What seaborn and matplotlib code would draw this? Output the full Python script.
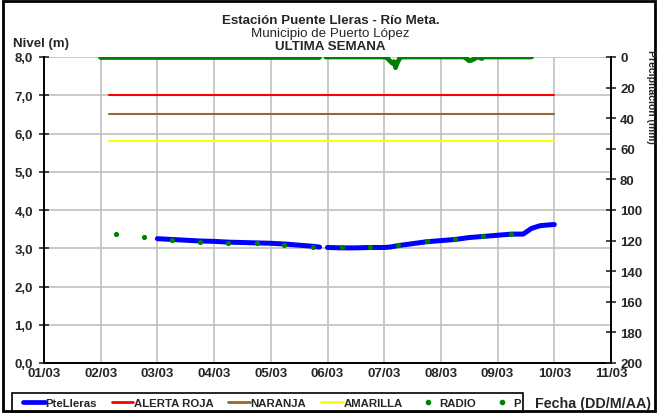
# %%
'''import libraries'''

import numpy as np
import pandas as pd
import seaborn as sns
import matplotlib.pyplot as plt
from matplotlib.lines import Line2D
from matplotlib.patches import Rectangle

# %%
'''data read off the chart (x = day of March)'''

day_ticks = [1, 2, 3, 4, 5, 6, 7, 8, 9, 10, 11]
day_labels = ['01/03', '02/03', '03/03', '04/03', '05/03', '06/03',
              '07/03', '08/03', '09/03', '10/03', '11/03']

# PteLleras water level (m), two segments with a gap
level_day = [3.0, 3.25, 3.5, 3.75, 4.0, 4.25, 4.5, 4.75, 5.0, 5.25, 5.5, 5.75, 5.86,
             6.0, 6.25, 6.5, 6.75, 7.0, 7.1, 7.25, 7.5, 7.75, 8.0, 8.25, 8.5, 8.75,
             9.0, 9.25, 9.45, 9.6, 9.75, 9.9, 10.0]
level_val = [3.25, 3.23, 3.21, 3.19, 3.18, 3.16, 3.15, 3.14, 3.13, 3.11, 3.08, 3.05, 3.03,
             3.02, 3.01, 3.01, 3.02, 3.02, 3.03, 3.07, 3.12, 3.17, 3.20, 3.23, 3.28, 3.31,
             3.34, 3.37, 3.37, 3.52, 3.59, 3.61, 3.62]
level_seg = [0] * 13 + [1] * 20

# radio readings (m)
radio_day = [2.27, 2.76, 3.26, 3.75, 4.25, 4.75, 5.24, 5.74, 6.26, 6.75,
             7.24, 7.75, 8.25, 8.74, 9.24]
radio_val = [3.37, 3.29, 3.22, 3.17, 3.14, 3.13, 3.09, 3.03, 3.02, 3.02,
             3.08, 3.18, 3.24, 3.31, 3.37]

# alert thresholds (m)
alert_day = [2.15, 10.0]
roja = [7.0, 7.0]
naranja = [6.5, 6.5]
amarilla = [5.8, 5.8]

# precipitation P (mm), right axis
p_day = [1.99, 5.85,
         5.97, 7.02, 7.06, 7.1, 7.14, 7.17, 7.2, 7.23, 7.27, 7.3,
         8.4, 8.45, 8.5, 8.55, 8.6, 8.65, 8.72, 8.76, 9.6]
p_val = [0, 0,
         0, 0, 1.0, 2.5, 4.0, 3.0, 7.0, 4.0, 1.0, 0,
         0, 1.0, 2.5, 2.0, 1.0, 0, 1.0, 0, 0]
p_seg = [0] * 2 + [1] * 19

# %%
'''plot'''

sns.set_style("white")
plt.rcParams['font.family'] = ['Liberation Sans', 'DejaVu Sans']

fig = plt.figure(figsize=(6.58, 4.14), dpi=100)
ax = fig.add_axes([44 / 658, 1 - 364 / 414, (611 - 44) / 658, (364 - 58) / 414])

lev = pd.DataFrame({'day': level_day, 'nivel': level_val, 'seg': level_seg})
sns.lineplot(data=lev, x='day', y='nivel', units='seg', estimator=None,
             color='#0000FF', lw=3.6, ax=ax, zorder=4)

sns.lineplot(x=alert_day, y=roja, color='#FF0000', lw=1.5, ax=ax, zorder=3)
sns.lineplot(x=alert_day, y=naranja, color='#996633', lw=1.5, ax=ax, zorder=3)
sns.lineplot(x=alert_day, y=amarilla, color='#FFFF00', lw=1.5, ax=ax, zorder=3)

sns.scatterplot(x=radio_day, y=radio_val, color='#008000', s=14, linewidth=0,
                ax=ax, zorder=5)

ax.set_xlim(1, 11)
ax.set_ylim(0, 8)
ax.set_xticks(day_ticks)
ax.set_xticklabels(day_labels)
ax.set_yticks(range(0, 9))
ax.set_yticklabels(['{:.1f}'.format(v).replace('.', ',') for v in range(0, 9)])
ax.set_xlabel('')
ax.set_ylabel('')
ax.grid(True, color='#C0C0C0', lw=1.2)
ax.set_axisbelow(True)
for s in ['top', 'right']:
    ax.spines[s].set_visible(False)
for s in ['left', 'bottom']:
    ax.spines[s].set_color('black')
    ax.spines[s].set_linewidth(1.4)
ax.tick_params(axis='y', direction='inout', length=7, width=1.2, pad=4.5,
               labelsize=9.5)
ax.tick_params(axis='x', direction='out', length=2, width=1, pad=1, labelsize=9.5)
for t in ax.get_xticklabels() + ax.get_yticklabels():
    t.set_fontweight('bold')

# right axis: precipitation
ax2 = ax.twinx()
pp = pd.DataFrame({'day': p_day, 'p': p_val, 'seg': p_seg})
sns.lineplot(data=pp, x='day', y='p', units='seg', estimator=None,
             color='#008000', lw=3.4, ax=ax2)
ax2.set_ylim(200, 0)
ax2.set_yticks(range(0, 201, 20))
ax2.set_ylabel('')
ax2.set_xlim(1, 11)
for s in ['top', 'left', 'bottom']:
    ax2.spines[s].set_visible(False)
ax2.spines['right'].set_color('black')
ax2.spines['right'].set_linewidth(1.4)
ax2.tick_params(axis='y', direction='inout', length=7, width=1.2, pad=3,
                labelsize=9.5)
for t in ax2.get_yticklabels():
    t.set_fontweight('bold')

# titles and labels
fig.text(0.502, 1 - 21 / 414, 'Estación Puente Lleras - Río Meta.', ha='center',
         va='center', fontsize=9.6, fontweight='bold')
fig.text(0.502, 1 - 34 / 414, 'Municipio de Puerto López', ha='center',
         va='center', fontsize=9.6)
fig.text(0.502, 1 - 47 / 414, 'ULTIMA SEMANA', ha='center', va='center',
         fontsize=9.6, fontweight='bold')
fig.text(13 / 658, 1 - 44 / 414, 'Nivel (m)', ha='left', va='center',
         fontsize=9.5, fontweight='bold')
fig.text(535 / 658, 1 - 404 / 414, 'Fecha (DD/M/AA)', ha='left', va='center',
         fontsize=10.3, fontweight='bold')
fig.text(646 / 658, 1 - 50 / 414, 'Precipitación (mm)', rotation=270,
         ha='left', va='top', fontsize=7.5, fontweight='bold')

# legend
handles = [Line2D([], [], color='#0000FF', lw=3.4),
           Line2D([], [], color='#FF0000', lw=2),
           Line2D([], [], color='#996633', lw=2),
           Line2D([], [], color='#FFFF00', lw=2),
           Line2D([], [], color='#008000', lw=0, marker='o', markersize=3),
           Line2D([], [], color='#008000', lw=0, marker='o', markersize=3)]
names = ['PteLleras', 'ALERTA ROJA', 'NARANJA', 'AMARILLA', 'RADIO', 'P']
leg = fig.legend(handles, names, ncol=6, loc='center left',
                 bbox_to_anchor=(22 / 658, 1 - 404 / 414), frameon=False,
                 handlelength=1.9, handletextpad=0.05, columnspacing=1.3,
                 borderpad=0.1, borderaxespad=0,
                 prop={'size': 8.2, 'weight': 'bold'})
fig.patches.append(Rectangle((12 / 658, 1 - 413 / 414), 511 / 658, 19 / 414,
                             transform=fig.transFigure, fill=False,
                             edgecolor='black', lw=1.2))

# outer frame
fig.patches.append(Rectangle((0.004, 0.004), 0.992, 0.992, transform=fig.transFigure,
                             fill=False, edgecolor='black', lw=2))

plt.savefig('out.png', dpi=100)
